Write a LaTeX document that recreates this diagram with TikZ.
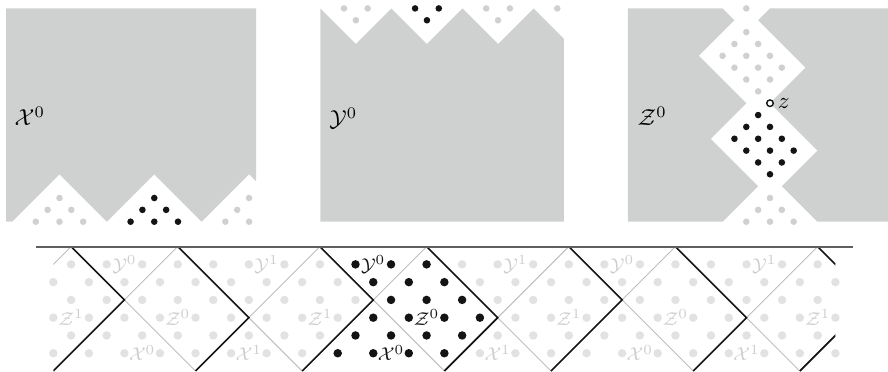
\documentclass[tikz,border=0pt]{standalone}
\usepackage{tikz}
\usetikzlibrary{calc}
\usepackage{xcolor}
\usepackage{amsmath}
\definecolor{RG}{RGB}{207,209,209}
\definecolor{LD}{RGB}{226,226,226}
\definecolor{LL}{RGB}{190,190,190}
\definecolor{LT}{RGB}{205,205,205}
\definecolor{DG}{RGB}{95,95,95}
\definecolor{BK}{RGB}{20,20,20}

\begin{document}
\begin{tikzpicture}[x=0.18cm, y=0.18cm,
  lab/.style={font=\normalsize, inner sep=0pt},
  tag/.style={font=\footnotesize, inner sep=0pt},
  hole/.style={circle, draw=BK, fill=white, line width=0.6pt,
               inner sep=0pt, minimum size=0.1cm},
  edgeb/.style={draw=BK, line width=0.7pt},
  edgeg/.style={draw=LL, line width=0.4pt}
]
\useasboundingbox (0,0) rectangle (74.94,31.31);

% X^0
\begin{scope}[shift={(13.02,16.6)}]
  \fill[RG] (-12.5,14) -- (8.6,14) -- (8.6,-0.6) -- (8,0) -- (4,-4) -- (0,0)
    -- (-4,-4) -- (-8,0) -- (-12,-4) -- (-12.5,-4) -- cycle;
  \begin{scope}
    \clip (-12.5,-4.5) rectangle (8.6,14);
    \foreach \p in {-8,8}
      \foreach \x/\y in {0/-2,-1/-3,1/-3,-2/-4,0/-4,2/-4}
        \fill[RG] (\p+\x,\y) circle[radius=0.05cm];
  \end{scope}
  \foreach \x/\y in {0/-2,-1/-3,1/-3,-2/-4,0/-4,2/-4}
    \fill[BK] (\x,\y) circle[radius=0.05cm];
  \node[lab] (xlab) at (-10.5,4.9) {$\mathcal{X}^0$};
\end{scope}

% Y^0
\begin{scope}[shift={(36.03,27.6)}]
  \fill[RG] (-9,3) -- (-6,0) -- (-3,3) -- (0,0) -- (3,3) -- (6,0) -- (9,3)
    -- (11.56,0.44) -- (11.56,-15) -- (-9,-15) -- cycle;
  \begin{scope}
    \clip (-9,-15) rectangle (11.56,3.5);
    \foreach \p in {-6,6,12}
      \foreach \x/\y in {-1/3,1/3,0/2}
        \fill[RG] (\p+\x,\y) circle[radius=0.05cm];
  \end{scope}
  \foreach \x/\y in {-1/3,1/3,0/2}
    \fill[BK] (\x,\y) circle[radius=0.05cm];
  \node[lab] (ylab) at (-7.06,-6.3) {$\mathcal{Y}^0$};
\end{scope}

% Z^0
\begin{scope}[shift={(64.98,22.6)}]
  \fill[RG] (-12,8) -- (-4,8) -- (-3,7) -- (-6,4) -- (-2,0) -- (-5,-3)
    -- (-1,-7) -- (-4,-10) -- (-12,-10) -- cycle;
  \fill[RG] (0,8) -- (9.96,8) -- (9.96,-10) -- (4,-10) -- (1,-7) -- (4,-4)
    -- (0,0) -- (3,3) -- (-1,7) -- cycle;
  \foreach \x/\y in {-2/8,-2/6,-3/5,-1/5,-4/4,-2/4,0/4,-3/3,-1/3,1/3,-2/2,0/2,-1/1,
                     0/-8,-1/-9,1/-9,-2/-10,0/-10,2/-10}
    \fill[RG] (\x,\y) circle[radius=0.05cm];
  \foreach \x/\y in {-1/-1,-2/-2,0/-2,-3/-3,-1/-3,1/-3,-2/-4,0/-4,2/-4,-1/-5,1/-5,0/-6}
    \fill[BK] (\x,\y) circle[radius=0.05cm];
  \node[hole] (zpt) at (0,0) {};
  \node[lab] (zname) at (1.17,-0.05) {$z$};
  \node[lab] (zlab) at (-9.94,-1.12) {$\mathcal{Z}^0$};
\end{scope}

% periodic strip
\begin{scope}[shift={(31.5,10.5)}, scale=1.5]
  \begin{scope}
    \clip (-18,0.5) rectangle (26,-7.5);
    \foreach \k in {-3,...,4}{
      \pgfmathsetmacro{\cx}{7*\k}
      \pgfmathsetmacro{\da}{3+mod(abs(\k),2)}
      \pgfmathsetmacro{\db}{7-\da}
      \draw[edgeg] (\cx+\da,0) -- (\cx,-\da) -- (\cx+\db,-7);
      \draw[edgeb] (\cx-\da,0) -- (\cx,-\da) -- (\cx-\db,-7);
    }
  \end{scope}
  \draw[DG, line width=0.9pt] (-19,0) -- (27,0);

  \foreach \y in {1,...,6}
    \foreach \x in {-18,...,26}{
      \pgfmathtruncatemacro{\pq}{mod(abs(\x+\y),2)}
      \pgfmathtruncatemacro{\inb}{(\x>-abs(3-\y))*(\x<7-abs(4-\y))}
      \ifnum\pq=0
        \ifnum\inb=1
          \fill[BK] (\x,-\y) circle[radius=0.043cm];
        \else
          \fill[LD] (\x,-\y) circle[radius=0.043cm];
        \fi
      \fi
    }

  \foreach \x/\y/\s/\i in {-14/1/\mathcal{Y}^0/a, 14/1/\mathcal{Y}^0/b,
      -6/1/\mathcal{Y}^1/c, 8/1/\mathcal{Y}^1/d, 22/1/\mathcal{Y}^1/e,
      -11/4/\mathcal{Z}^0/f, 17/4/\mathcal{Z}^0/g,
      -17/4/\mathcal{Z}^1/h, -3/4/\mathcal{Z}^1/i, 11/4/\mathcal{Z}^1/j, 25/4/\mathcal{Z}^1/k,
      -13/6/\mathcal{X}^0/l, 15/6/\mathcal{X}^0/m,
      -7/6/\mathcal{X}^1/n, 7/6/\mathcal{X}^1/o, 21/6/\mathcal{X}^1/p}
    \node[tag, text=LT] (t\i) at (\x,-\y) {$\s$};

  \node[tag, text=BK] (ty0) at (0,-1) {$\mathcal{Y}^0$};
  \node[tag, text=BK] (tz0) at (3,-4) {$\mathcal{Z}^0$};
  \node[tag, text=BK] (tx0) at (1,-6) {$\mathcal{X}^0$};
\end{scope}
\end{tikzpicture}
\end{document}
